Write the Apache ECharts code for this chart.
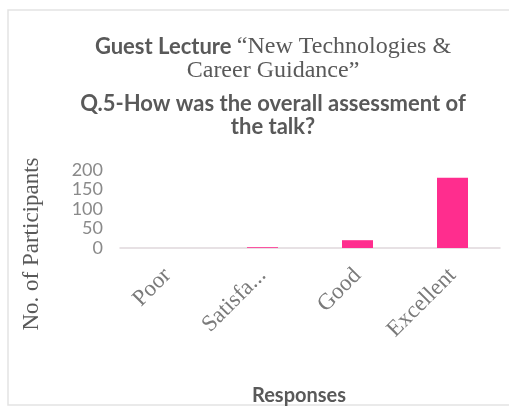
<!DOCTYPE html>
<html><head><meta charset="utf-8">
<script src="https://cdn.jsdelivr.net/npm/echarts@6/dist/echarts.min.js"></script>
<style>html,body{margin:0;padding:0;background:#fff}#c{width:509px;height:407px}</style>
</head><body><div id="c"></div>
<script>
const categories = ["Poor", "Satisfactory", "Good", "Excellent"];
const participants = [0, 2, 20, 180];
const yTicks = [0, 50, 100, 150, 200];

const sans = {fontFamily: 'Lato', fontWeight: 'bold', fontSize: 22, color: '#595959'};
const serif = {fontFamily: 'Liberation Serif', fontWeight: 'normal', fontSize: 24, color: '#595959'};

const chart = echarts.init(document.getElementById('c'));
chart.setOption({
  animation: false,
  graphic: [{
    type: 'rect', shape: {x: 8, y: 10, width: 520, height: 395},
    style: {fill: 'none', stroke: '#e3e3e3', lineWidth: 1.5}
  }],
  title: [
    {left: 268, top: 30, textAlign: 'center',
     text: '{s|Guest Lecture }{t|\u201cNew Technologies &}',
     textStyle: {rich: {s: sans, t: serif}}},
    {left: 268, top: 54, textAlign: 'center',
     text: 'Career Guidance\u201d', textStyle: serif},
    {left: 268, top: 88, textAlign: 'center',
     text: 'Q.5-How was the overall assessment of', textStyle: sans},
    {left: 268, top: 111, textAlign: 'center',
     text: 'the talk?', textStyle: sans}
  ],
  grid: {left: 120, right: 9, top: 170, bottom: 159},
  xAxis: {
    type: 'category', data: categories,
    axisLine: {lineStyle: {color: '#e0d8dc', width: 1.5}},
    axisTick: {show: false},
    axisLabel: {
      rotate: 45, margin: 24, color: '#7a7a7a', fontFamily: 'Liberation Serif', fontSize: 23,
      formatter: v => v.length > 9 ? v.slice(0, 7) + '...' : v
    },
    name: 'Responses', nameLocation: 'middle', nameGap: 138,
    nameTextStyle: {fontFamily: 'Lato', fontWeight: 'bold', fontSize: 20, color: '#595959', padding: [0, 22, 0, 0]}
  },
  yAxis: {
    type: 'value', min: 0, max: 200, interval: 50,
    splitLine: {show: false},
    axisLine: {show: false}, axisTick: {show: false},
    axisLabel: {color: '#8a8a8a', fontFamily: 'Lato', fontSize: 18, margin: 17,
      formatter: v => yTicks.includes(v) ? String(v) : ''},
    name: 'No. of Participants', nameLocation: 'middle', nameGap: 77, nameRotate: 90,
    nameTextStyle: {fontFamily: 'Liberation Serif', fontSize: 23, color: '#595959', padding: [0, 0, 0, -70]}
  },
  series: [{
    type: 'bar', data: participants, barWidth: 31,
    itemStyle: {color: '#ff2d8e'}
  }]
});
</script></body></html>
